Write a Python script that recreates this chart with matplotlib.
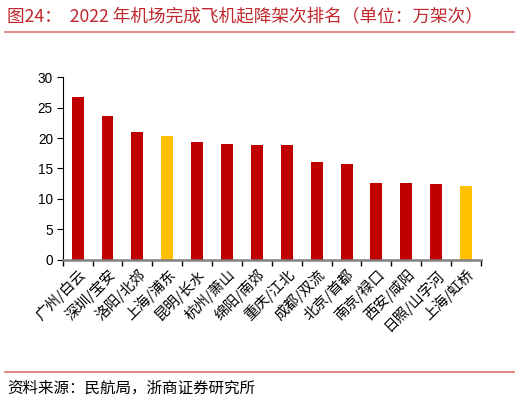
import matplotlib
matplotlib.use("Agg")
import matplotlib.pyplot as plt
from matplotlib.lines import Line2D
import numpy as np

plt.rcParams['font.family'] = ['Noto Sans CJK SC', 'DejaVu Sans']

categories = ["广州/白云", "深圳/宝安", "洛阳/北郊", "上海/浦东", "昆明/长水", "杭州/萧山",
              "绵阳/南郊", "重庆/江北", "成都/双流", "北京/首都", "南京/禄口", "西安/咸阳",
              "日照/山字河", "上海/虹桥"]
values = [26.7, 23.6, 21.0, 20.4, 19.3, 19.0, 18.8, 18.8, 16.0, 15.8, 12.6, 12.6, 12.4, 12.2]
highlight = ["上海/浦东", "上海/虹桥"]
yticks = [0, 5, 10, 15, 20, 25, 30]

red = "#C00000"
yellow = "#FFC000"
colors = [yellow if c in highlight else red for c in categories]

fig = plt.figure(figsize=(5.2, 4.03), dpi=100)
ax = fig.add_axes([62.7/520, 1-259.7/403, (481-62.7)/520, (259.7-77.3)/403])

x = np.arange(len(categories))
ax.bar(x, values, width=0.4, color=colors, zorder=2)
ax.set_xlim(-0.5, len(categories)-0.5)
ax.set_ylim(0, 30)
ax.set_yticks(yticks)
ax.set_yticklabels([str(v) for v in yticks], fontfamily='Liberation Sans', fontsize=9.8)
ax.tick_params(axis='y', direction='out', length=4, width=0.8, pad=3, color='black')

ax.set_xticks(np.arange(len(categories)+1)-0.5)
ax.set_xticklabels([])
ax.set_xticks(x, minor=True)
ax.set_xticklabels(categories, minor=True, rotation=45, ha='right', va='top',
                   rotation_mode='anchor', fontsize=10.5)
ax.tick_params(axis='x', which='major', direction='out', length=4, width=1.0, color='black')
ax.tick_params(axis='x', which='minor', length=0, pad=5)

for s in ['top', 'right']:
    ax.spines[s].set_visible(False)
ax.spines['left'].set_linewidth(0.8)
ax.spines['bottom'].set_color('#808080')
ax.spines['bottom'].set_linewidth(1.8)

fig.text(7/520, 1-16/403, "图24：  2022 年机场完成飞机起降架次排名（单位：万架次）",
         color="#C0272D", fontsize=12.7, va='center', ha='left')
fig.add_artist(Line2D([5/520, 514/520], [1-32/403, 1-32/403], color="#E07070", lw=1.2,
                      transform=fig.transFigure))
fig.add_artist(Line2D([5/520, 514/520], [1-371.5/403, 1-371.5/403], color="#E07070", lw=1.2,
                      transform=fig.transFigure))
fig.text(7/520, 1-388/403, "资料来源：民航局，浙商证券研究所", color="black", fontsize=11.2,
         va='center', ha='left')

fig.savefig("out.png", dpi=100)
